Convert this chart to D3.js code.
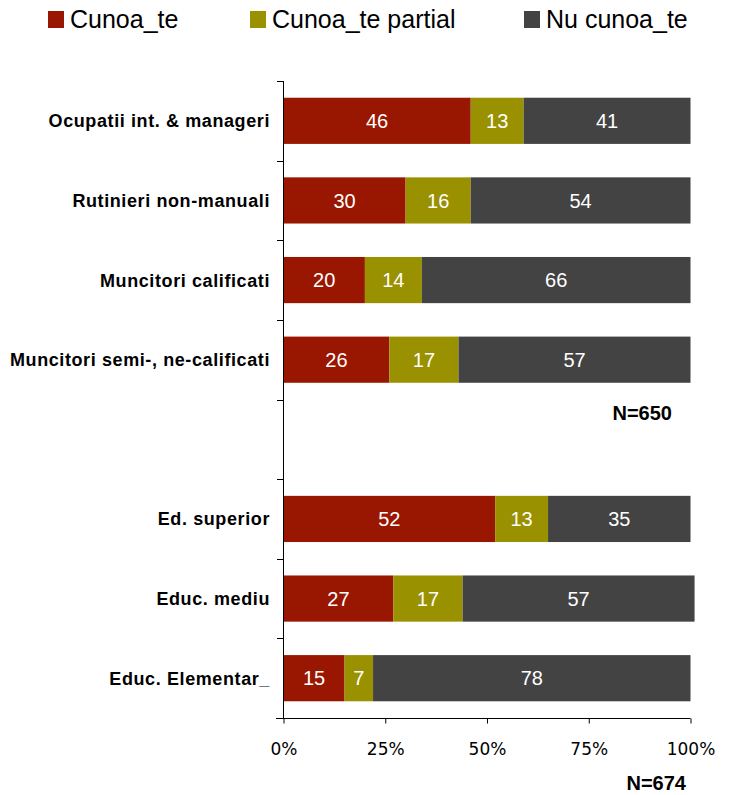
<!DOCTYPE html>
<html><head><meta charset="utf-8">
<script src="https://cdn.jsdelivr.net/npm/d3@7"></script>
<style>body{margin:0;background:#fff}svg{display:block}</style>
</head><body>
<script>
const categories = ["Ocupatii int. & manageri","Rutinieri non-manuali","Muncitori calificati","Muncitori semi-, ne-calificati","","Ed. superior","Educ. mediu","Educ. Elementar_"];
const seriesNames = ["Cunoa_te","Cunoa_te partial","Nu cunoa_te"];
const cunoaste = [46,30,20,26,null,52,27,15];
const partial = [13,16,14,17,null,13,17,7];
const nuCunoaste = [41,54,66,57,null,35,57,78];
const tickValues = [0,25,50,75,100];
const colors = ["#991600","#999100","#434343"];
const notes = ["N=650","N=674"];

const W=744,H=795;
const svg=d3.select("body").append("svg").attr("width",W).attr("height",H);
const x=d3.scaleLinear().domain([0,100]).range([283.5,690.5]);
const y=d3.scaleBand().domain(d3.range(categories.length)).range([81,718]).paddingInner(0.42).paddingOuter(0.21);
const yb=d3.scaleBand().domain(d3.range(categories.length)).range([81,718]);
const F="Liberation Sans, Arial, sans-serif";

const series=[cunoaste,partial,nuCunoaste];
categories.forEach((c,i)=>{
  if(cunoaste[i]==null) return;
  let acc=0;
  series.forEach((s,k)=>{
    const v=s[i];
    svg.append("rect").attr("x",x(acc)).attr("y",y(i)).attr("width",x(acc+v)-x(acc)).attr("height",y.bandwidth()).attr("fill",colors[k]);
    svg.append("text").attr("x",(x(acc)+x(acc+v))/2).attr("y",y(i)+y.bandwidth()/2).attr("dy","0.36em")
      .attr("text-anchor","middle").attr("fill","#fff").attr("font-family",F).attr("font-size",20).text(v);
    acc+=v;
  });
  svg.append("text").attr("x",270).attr("y",y(i)+y.bandwidth()/2).attr("dy","0.36em").attr("text-anchor","end")
    .attr("font-family",F).attr("font-weight","bold").attr("font-size",18).attr("letter-spacing","0.6px").attr("fill","#000").text(c);
});

// left axis
svg.append("line").attr("x1",283.5).attr("x2",283.5).attr("y1",81).attr("y2",718).attr("stroke","#000");
d3.range(categories.length).forEach(i=>{
  svg.append("line").attr("x1",277).attr("x2",283.5).attr("y1",Math.round(yb(i))+0.5).attr("y2",Math.round(yb(i))+0.5).attr("stroke","#000");
});
// bottom axis
const xa=svg.append("g").attr("transform","translate(0,718.5)")
  .call(d3.axisBottom(x).tickValues(tickValues).tickFormat(d=>d+"%").tickSize(5).tickSizeOuter(0));
xa.select(".domain").remove();
xa.append("line").attr("x1",276).attr("x2",690.5).attr("stroke","#000");
xa.selectAll(".tick line").attr("stroke","#000");
xa.selectAll("text").attr("font-family","DejaVu Sans, sans-serif").attr("font-size",17).attr("fill","#000").attr("dy",0).attr("y",36);

// notes
svg.append("text").attr("x",672).attr("y",420).attr("text-anchor","end").attr("font-family",F).attr("font-weight","bold").attr("font-size",20).text(notes[0]);
svg.append("text").attr("x",686).attr("y",790).attr("text-anchor","end").attr("font-family",F).attr("font-weight","bold").attr("font-size",20).text(notes[1]);

// legend
const legX=[48,250,524];
seriesNames.forEach((n,k)=>{
  svg.append("rect").attr("x",legX[k]).attr("y",11).attr("width",16).attr("height",17).attr("fill",colors[k]);
  svg.append("text").attr("x",legX[k]+22).attr("y",28).attr("font-family",F).attr("font-size",25).attr("fill","#000").text(n);
});
</script>
</body></html>
